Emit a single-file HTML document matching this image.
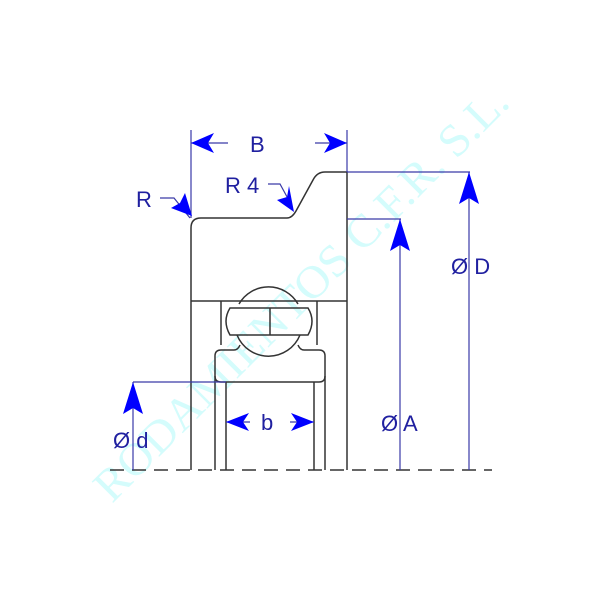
<!DOCTYPE html>
<html><head><meta charset="utf-8"><style>body{margin:0;background:#fff}svg{display:block}</style></head><body>
<svg width="600" height="600" viewBox="0 0 600 600" xmlns="http://www.w3.org/2000/svg">
<text x="0" y="0" transform="translate(112,504) rotate(-45)" font-family="Liberation Serif, serif" font-size="46" fill="#d4fcfc" textLength="565" lengthAdjust="spacingAndGlyphs">RODAMIENTOS C.F.R. S.L.</text>
<g stroke="#333" stroke-width="1.5" fill="none">
<path d="M191,470 V228 Q191,218 201,218 H287 Q292,218 296,211 L313,180 Q317,172 325,172 H347 V470"/>
<line x1="191" y1="301" x2="347" y2="301"/>
<line x1="221" y1="301" x2="221" y2="345"/>
<line x1="317" y1="301" x2="317" y2="345"/>
<path d="M215,470 V356 Q215,350 221,350 H234 Q238,350 240,345 M298,345 Q300,350 304,350 H319 Q325,350 325,356 V470"/>
<path d="M215,376 Q215,382 221,382 H319 Q325,382 325,376"/>
<line x1="226" y1="382" x2="226" y2="470"/>
<line x1="314" y1="382" x2="314" y2="470"/>
<path d="M239,304 A34,34 0 0 1 298,304"/>
<path d="M237,335 A34,34 0 0 0 300,335"/>
<path d="M230,308 H308 Q316,321 308,335 H230 Q222,321 230,308 Z"/>
<line x1="270" y1="308" x2="270" y2="335"/>
<line x1="110" y1="470" x2="492" y2="470" stroke-dasharray="14,8"/>
</g>
<g stroke="#3a3aa8" stroke-width="1.2" fill="none">
<line x1="191" y1="130" x2="191" y2="218"/>
<line x1="347" y1="130" x2="347" y2="172"/>
<line x1="191" y1="143" x2="228" y2="143"/>
<line x1="315" y1="143" x2="347" y2="143"/>
<line x1="347" y1="172" x2="470" y2="172"/>
<line x1="469" y1="172" x2="469" y2="470"/>
<line x1="347" y1="219" x2="401" y2="219"/>
<line x1="400" y1="219" x2="400" y2="470"/>
<line x1="133" y1="382" x2="226" y2="382"/>
<line x1="133" y1="382" x2="133" y2="470"/>
<line x1="226" y1="422" x2="250" y2="422"/>
<line x1="290" y1="422" x2="314" y2="422"/>
<path d="M160,198 H174 L190,218"/>
<path d="M268,184 H280 L292,206"/>
</g>
<g fill="#0000ff">
<path d="M191,143 L214,133 L208,143 L214,153 Z"/>
<path d="M347,143 L324,133 L330,143 L324,153 Z"/>
<path d="M469,172 L459,204 L469,198 L479,204 Z"/>
<path d="M400,219 L390,251 L400,245 L410,251 Z"/>
<path d="M133,382 L123,414 L133,408 L143,414 Z"/>
<path d="M226,422 L249,413 L243,422 L249,431 Z"/>
<path d="M314,422 L291,413 L297,422 L291,431 Z"/>
<path d="M192,216 L171,208 L180,203 L185,193 Z"/>
<path d="M294,212 L277,200 L287,197 L289,186 Z"/>
</g>
<g font-family="Liberation Sans, sans-serif" font-size="22" fill="#2020a0">
<text x="250" y="152">B</text>
<text x="136" y="207">R</text>
<text x="225" y="193">R 4</text>
<text x="261" y="430">b</text>
<text x="113" y="448">Ø d</text>
<text x="381" y="431">Ø A</text>
<text x="451" y="274">Ø D</text>
</g>
</svg>
</body></html>
